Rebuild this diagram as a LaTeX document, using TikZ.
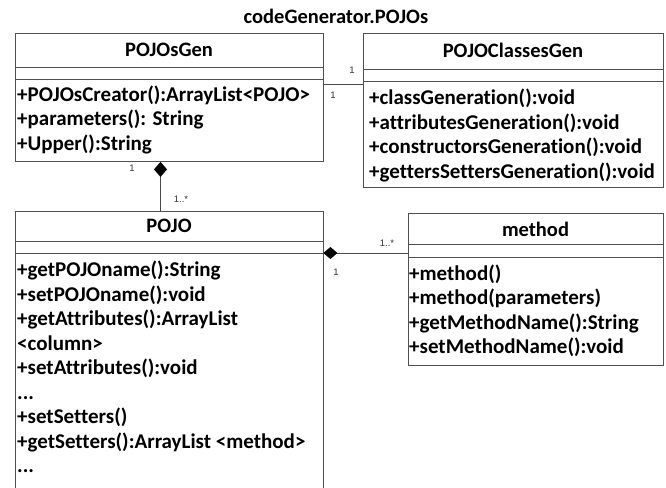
\documentclass[tikz,border=0pt]{standalone}
\usepackage{fontspec}
\setmainfont{Carlito}[Ligatures=NoCommon]
\newfontfamily\lblfont{Liberation Sans}
\usetikzlibrary{arrows.meta}
\definecolor{boxline}{HTML}{505050}
\definecolor{conn}{HTML}{4A4A4A}
\definecolor{lbl}{HTML}{333333}
\tikzset{
  boxedge/.style={draw=boxline, line width=0.9pt},
  classbox/.style={boxedge, rectangle, inner sep=0pt, anchor=north west},
  member/.style={anchor=base west, inner sep=0pt, font=\fontsize{21}{24.5}\selectfont\bfseries},
  cname/.style={anchor=base, inner sep=0pt, font=\fontsize{20.5}{24.5}\selectfont\bfseries},
  mult/.style={anchor=center, inner sep=0pt, text=lbl, font=\lblfont\fontsize{9.5}{10}\selectfont},
  conline/.style={draw=conn, line width=0.9pt},
  compo/.style={{Diamond[length=15pt,width=13pt,fill=black,color=black]}-},
  compoh/.style={{Diamond[length=14pt,width=12pt,fill=black,color=black]}-},
}
\begin{document}
\begin{tikzpicture}[x=1pt,y=-1pt]
\useasboundingbox (0,0) rectangle (666,487);
\fill[white] (0,0) rectangle (666,487);

% title
\node[cname] (title) at (336,24) {codeGenerator.POJOs};

% POJOsGen
\node[classbox, minimum width=308pt, minimum height=128pt] (gen) at (15,33) {};
\draw[boxedge] (15,67) -- (323,67);
\draw[boxedge] (15,79) -- (323,79);
\node[cname] (genname) at (169,56.7) {POJOsGen};
\node[member] (g1) at (17,101) {+POJOsCreator():ArrayList<POJO>};
\node[member] (g2) at (17,125.5) {+parameters(): String};
\node[member] (g3) at (17,150) {+Upper():String};

% POJOClassesGen
\node[classbox, minimum width=300pt, minimum height=154pt] (cls) at (363,33) {};
\draw[boxedge] (363,69) -- (663,69);
\draw[boxedge] (363,81) -- (663,81);
\node[cname] (clsname) at (513,58) {POJOClassesGen};
\node[member] (c1) at (369,104.5) {+classGeneration():void};
\node[member] (c2) at (369,129) {+attributesGeneration():void};
\node[member] (c3) at (369,153.5) {+constructorsGeneration():void};
\node[member] (c4) at (369,178) {+gettersSettersGeneration():void};

% POJO (continues below the picture)
\node[inner sep=0pt, anchor=north west, minimum width=308pt, minimum height=276pt] (pojo) at (15,211) {};
\draw[boxedge] (15,488) -- (15,211) -- (323,211) -- (323,488);
\draw[boxedge] (15,241) -- (323,241);
\draw[boxedge] (15,253) -- (323,253);
\node[cname] (pojoname) at (169,232.5) {POJO};
\node[member] (p1) at (17,276.7) {+getPOJOname():String};
\node[member] (p2) at (17,301.2) {+setPOJOname():void};
\node[member] (p3) at (17,325.7) {+getAttributes():ArrayList};
\node[member] (p4) at (17,350.2) {<column>};
\node[member] (p5) at (17,374.7) {+setAttributes():void};
\node[member] (p6) at (17,399.2) {...};
\node[member] (p7) at (17,423.7) {+setSetters()};
\node[member] (p8) at (17,448.2) {+getSetters():ArrayList <method>};
\node[member] (p9) at (17,472.7) {...};

% method
\node[classbox, minimum width=255pt, minimum height=152pt] (meth) at (408,213) {};
\draw[boxedge] (408,244) -- (663,244);
\draw[boxedge] (408,257) -- (663,257);
\node[cname] (methname) at (535.5,236.5) {method};
\node[member] (m1) at (409,280) {+method()};
\node[member] (m2) at (409,304.5) {+method(parameters)};
\node[member] (m3) at (409,329) {+getMethodName():String};
\node[member] (m4) at (409,353.5) {+setMethodName():void};

% connectors
\path (gen.north east) ++(0,51) coordinate (genR);
\path (cls.north west) ++(0,51) coordinate (clsL);
\draw[conline] (genR) -- (clsL);
\node[mult] (a1) at (352,70) {1};
\node[mult] (a2) at (333,95) {1};

\path (gen.south west) ++(145.5,0) coordinate (genB);
\path (pojo.north west) ++(145.5,0) coordinate (pojoT);
\draw[conline, compo] (genB) -- (pojoT);
\node[mult] (b1) at (132,168) {1};
\node[mult] (b2) at (181,199) {1..*};

\path (pojo.north east) ++(0,42) coordinate (pojoR);
\path (meth.north west) ++(0,40) coordinate (methL);
\draw[conline, compoh] (pojoR) -- (methL);
\node[mult] (d1) at (387,243) {1..*};
\node[mult] (d2) at (336,272) {1};
\end{tikzpicture}
\end{document}
